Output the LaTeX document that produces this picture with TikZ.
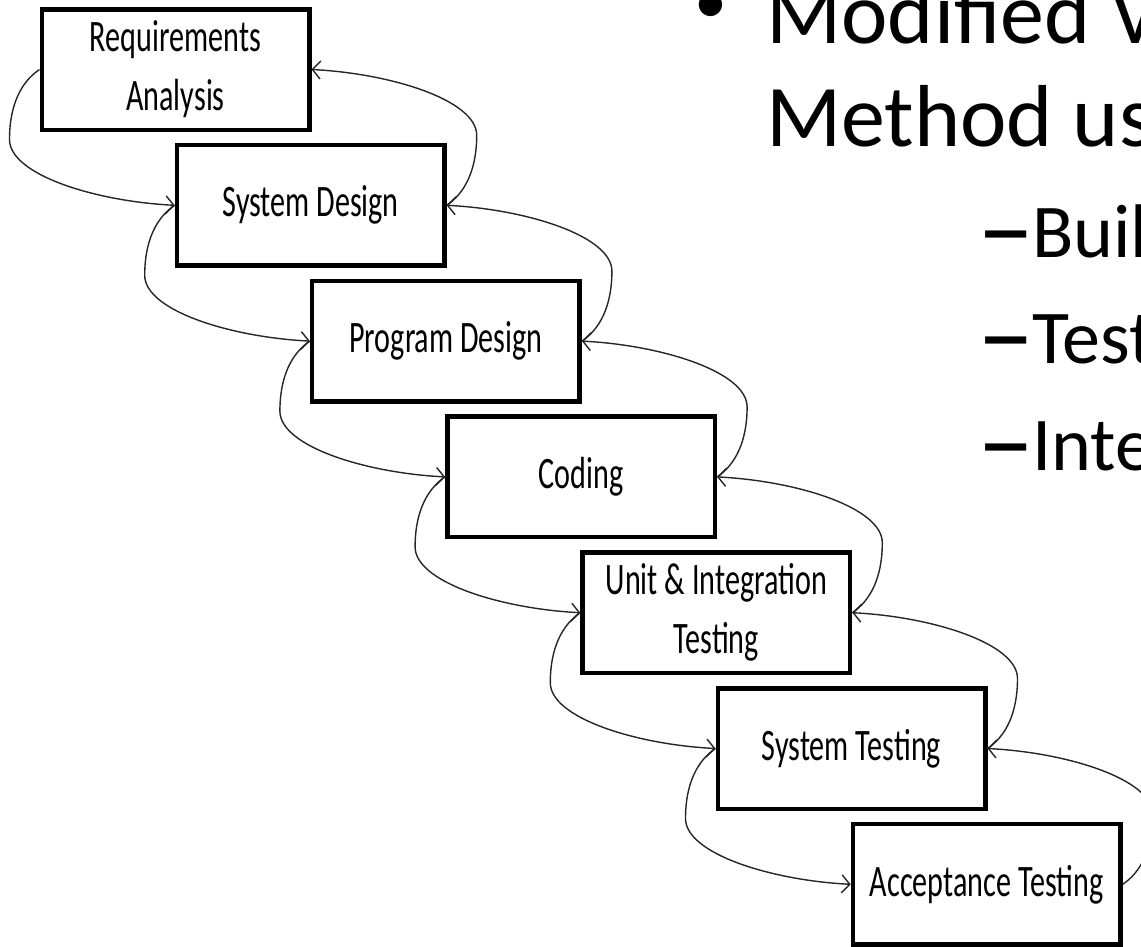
\documentclass[tikz,border=0pt]{standalone}
\usepackage{fontspec}
\usepackage{graphicx}
\setmainfont{Carlito}
\usetikzlibrary{arrows.meta,calc}

% narrow, tall lettering used inside the stage boxes
\newcommand{\narrow}[1]{\scalebox{0.67}[1]{#1}}

\begin{document}
\begin{tikzpicture}[x=1pt,y=-1pt,
  stagebox/.style={draw=black, line width=4.5pt, fill=white,
    minimum width=267.5pt, minimum height=120.5pt, inner sep=0pt,
    align=center, font=\fontsize{45}{59}\selectfont},
  flow/.style={draw=black!85, line width=1.4pt,
    -{Straight Barb[length=8pt,width=18pt]}},
  lvlone/.style={anchor=base west, inner sep=0pt, font=\fontsize{88}{100}\selectfont},
  lvltwo/.style={anchor=base west, inner sep=0pt, font=\fontsize{76}{90}\selectfont},
  dashmark/.style={anchor=base west, inner sep=0pt, font=\fontsize{115}{120}\selectfont}]

\useasboundingbox (0,0) rectangle (1141,946);
\clip (0,0) rectangle (1141,946);

% the seven stages, stepping down to the right
\node[stagebox] (req)  at (175.5, 69.5) {\narrow{Requirements}\\\narrow{Analysis}};
\node[stagebox] (sysd) at (310.7,205.3) {\narrow{System Design}};
\node[stagebox] (prgd) at (445.9,341.1) {\narrow{Program Design}};
\node[stagebox] (code) at (581.1,476.9) {\narrow{Coding}};
\node[stagebox] (unit) at (716.3,612.7) {\narrow{Unit \& Integration}\\\narrow{Testing}};
\node[stagebox] (syst) at (851.5,748.5) {\narrow{System Testing}};
\node[stagebox] (acct) at (986.7,884.3) {\narrow{Acceptance Testing}};

% forward flow on the left, feedback on the right
\foreach \a/\b in {req/sysd, sysd/prgd, prgd/code, code/unit, unit/syst, syst/acct}{
  \draw[flow] (\a.west) .. controls +(-18,12) and +(0,-35) .. ($(\a.west)+(-30,70)$)
              .. controls +(0,35) and +(-80,-4) .. (\b.west);
  \draw[flow] (\b.east) .. controls +(18,-12) and +(0,35) .. ($(\b.east)+(30,-70)$)
              .. controls +(0,-35) and +(80,4) .. (\a.east);
}

% bullet text
\node[anchor=base, inner sep=0pt, font=\fontsize{66}{70}\selectfont] (dot) at (711,23) {•};
\node[lvlone] (l1a) at (766,43)  {Modified V};
\node[lvlone] (l1b) at (766,146) {Method us};
\node[dashmark] (d1) at (977,266) {–};
\node[lvltwo] (s1) at (1032,257) {Buil};
\node[dashmark] (d2) at (977,372) {–};
\node[lvltwo] (s2) at (1032,363) {Test};
\node[dashmark] (d3) at (977,479) {–};
\node[lvltwo] (s3) at (1032,470) {Inte};
\end{tikzpicture}
\end{document}
